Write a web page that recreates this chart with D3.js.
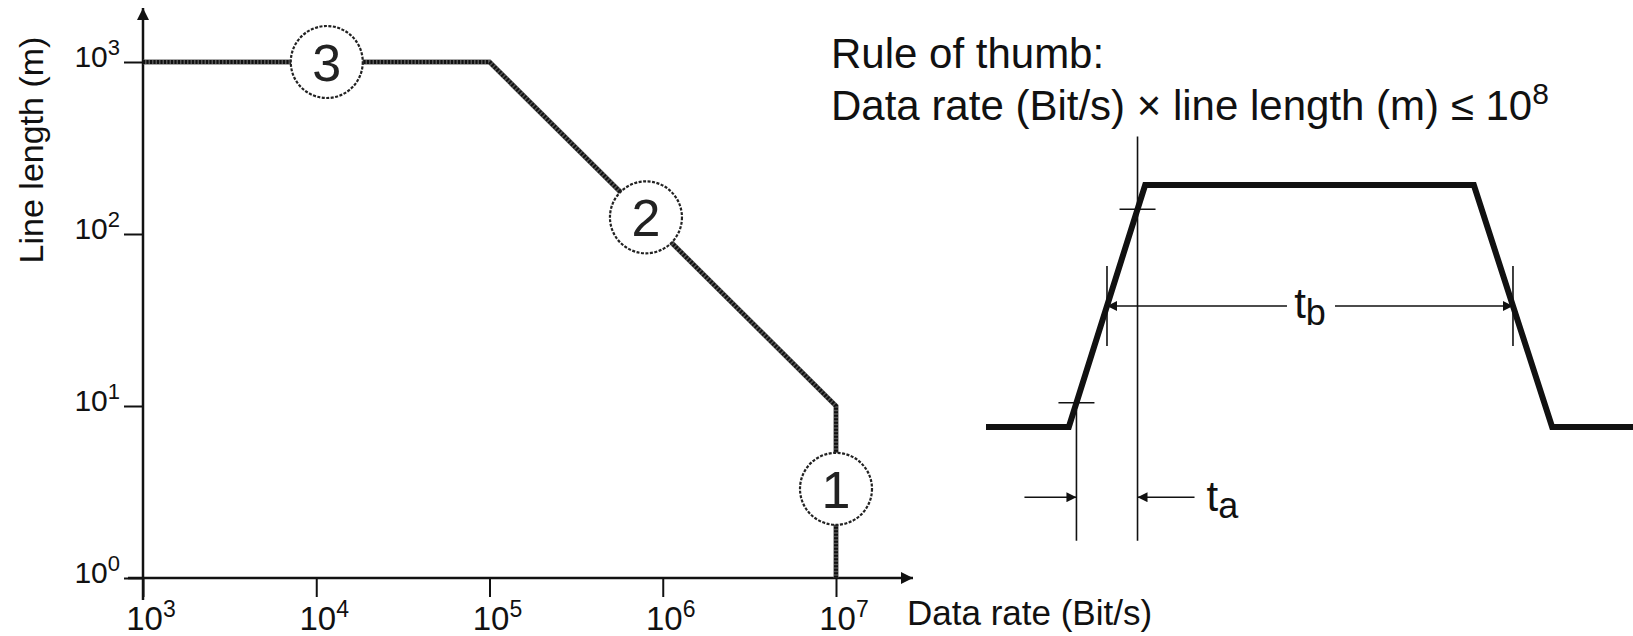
<!DOCTYPE html>
<html>
<head>
<meta charset="utf-8">
<script src="https://cdn.jsdelivr.net/npm/d3@7"></script>
<style>
  body { margin: 0; background: #fff; }
  svg { display: block; font-family: "Liberation Sans", Arial, sans-serif; }
</style>
</head>
<body>
<div id="chart"></div>
<script>
// dimensions
const width = 1633;
const height = 636;

// left chart: max line length per data rate
const dataRates = [1e3, 1e5, 1e7, 1e7];
const lineLengths = [1e3, 1e3, 1e1, 1e0];
const xTickValues = [1e3, 1e4, 1e5, 1e6, 1e7];
const yTickValues = [1e0, 1e1, 1e2, 1e3];

// numbered regions on the curve
const markerLabels = ["1", "2", "3"];
const markerRates = [1e7, 8e5, 1.15e4];
const markerLengths = [3.3, 125, 1e3];

// pulse sketch (arbitrary time units, level 0..1)
const pulseTime = [0, 12.8, 24.6, 75.4, 87.5, 100];
const pulseLevel = [0, 0, 1, 1, 0, 0];

const ruleLines = ["Rule of thumb:", "Data rate (Bit/s) \u00d7 line length (m) \u2264 10"];
const ruleExponent = "8";

const svg = d3.select("#chart").append("svg")
    .attr("width", width)
    .attr("height", height);

// arrow heads
const defs = svg.append("defs");
defs.append("marker")
    .attr("id", "axisArrow")
    .attr("viewBox", "0 0 10 10")
    .attr("refX", 10).attr("refY", 5)
    .attr("markerWidth", 14).attr("markerHeight", 12)
    .attr("markerUnits", "userSpaceOnUse")
    .attr("orient", "auto")
    .append("path").attr("d", "M0,0 L10,5 L0,10 Z").attr("fill", "#111");
defs.append("marker")
    .attr("id", "dimArrow")
    .attr("viewBox", "0 0 10 10")
    .attr("refX", 10).attr("refY", 5)
    .attr("markerWidth", 16).attr("markerHeight", 10)
    .attr("markerUnits", "userSpaceOnUse")
    .attr("orient", "auto")
    .append("path").attr("d", "M0,0 L10,5 L0,10 Z").attr("fill", "#111");

// ===== left chart =====
const x = d3.scaleLog().domain([1e3, 1e7]).range([143, 836]);
const y = d3.scaleLog().domain([1e0, 1e3]).range([578, 62]);

const exp10 = v => Math.round(Math.log10(v));

// x axis ticks
const xAxis = svg.append("g")
    .attr("transform", `translate(0,${y(1)})`)
    .call(d3.axisBottom(x).tickValues(xTickValues).tickSize(19).tickSizeOuter(0).tickFormat(""));
xAxis.select(".domain").remove();
xAxis.selectAll(".tick line").attr("stroke", "#111").attr("stroke-width", 2);

// y axis ticks
const yAxis = svg.append("g")
    .attr("transform", `translate(${x(1e3)},0)`)
    .call(d3.axisLeft(y).tickValues(yTickValues).tickSize(19).tickSizeOuter(0).tickFormat(""));
yAxis.select(".domain").remove();
yAxis.selectAll(".tick line").attr("stroke", "#111").attr("stroke-width", 2);

// axis lines with arrows
svg.append("line")
    .attr("x1", x(1e3)).attr("x2", x(1e3))
    .attr("y1", 600).attr("y2", 8)
    .attr("stroke", "#111").attr("stroke-width", 2.5)
    .attr("marker-end", "url(#axisArrow)");
svg.append("line")
    .attr("x1", 128).attr("x2", 913)
    .attr("y1", y(1)).attr("y2", y(1))
    .attr("stroke", "#111").attr("stroke-width", 2.5)
    .attr("marker-end", "url(#axisArrow)");

// tick labels with superscripts
const xLabels = svg.append("g").selectAll("text")
    .data(xTickValues)
    .join("text")
    .attr("x", d => x(d) + 8)
    .attr("y", 630)
    .attr("text-anchor", "middle")
    .attr("font-size", 33)
    .attr("fill", "#111")
    .text("10");
xLabels.append("tspan")
    .attr("dy", -13)
    .attr("font-size", 23)
    .text(d => exp10(d));

const yLabels = svg.append("g").selectAll("text")
    .data(yTickValues)
    .join("text")
    .attr("x", 120)
    .attr("y", d => y(d) + 5)
    .attr("text-anchor", "end")
    .attr("font-size", 30)
    .attr("fill", "#111")
    .text("10");
yLabels.append("tspan")
    .attr("dy", -12)
    .attr("font-size", 22)
    .text(d => exp10(d));

// axis titles
svg.append("text")
    .attr("transform", `translate(43,150) rotate(-90)`)
    .attr("text-anchor", "middle")
    .attr("font-size", 34)
    .attr("fill", "#111")
    .text("Line length (m)");
svg.append("text")
    .attr("x", 907)
    .attr("y", 625)
    .attr("font-size", 35)
    .attr("fill", "#111")
    .text("Data rate (Bit/s)");

// the limit curve
const limitLine = d3.line()
    .x((d, i) => x(dataRates[i]))
    .y((d, i) => y(lineLengths[i]));
svg.append("path")
    .attr("d", limitLine(dataRates))
    .attr("fill", "none")
    .attr("stroke", "#555")
    .attr("stroke-width", 5);
svg.append("path")
    .attr("d", limitLine(dataRates))
    .attr("fill", "none")
    .attr("stroke", "#111")
    .attr("stroke-width", 4)
    .attr("stroke-dasharray", "2 1.5");

// numbered circles
const markers = svg.append("g").selectAll("g")
    .data(markerLabels)
    .join("g")
    .attr("transform", (d, i) => `translate(${x(markerRates[i])},${y(markerLengths[i])})`);
markers.append("circle")
    .attr("r", 36)
    .attr("fill", "#fff")
    .attr("stroke", "#222")
    .attr("stroke-width", 2.2)
    .attr("stroke-dasharray", "3 1.5");
markers.append("text")
    .attr("text-anchor", "middle")
    .attr("dy", "0.36em")
    .attr("font-size", 52)
    .attr("fill", "#222")
    .text(d => d);

// rule of thumb text
const rule = svg.append("g");
rule.append("text")
    .attr("x", 831).attr("y", 68)
    .attr("font-size", 42).attr("fill", "#111")
    .text(ruleLines[0]);
rule.append("text")
    .attr("x", 831).attr("y", 120)
    .attr("font-size", 42).attr("fill", "#111")
    .text(ruleLines[1])
    .append("tspan")
    .attr("dy", -16)
    .attr("font-size", 30)
    .text(ruleExponent);

// ===== pulse sketch =====
const px = d3.scaleLinear().domain([0, 100]).range([986, 1633]);
const py = d3.scaleLinear().domain([0, 1]).range([427, 185]);

const riseAt = lv => pulseTime[1] + (pulseTime[2] - pulseTime[1]) * lv;
const fallAt = lv => pulseTime[3] + (pulseTime[4] - pulseTime[3]) * (1 - lv);

const pulse = svg.append("g");

pulse.append("path")
    .attr("d", d3.line().x((d, i) => px(pulseTime[i])).y((d, i) => py(pulseLevel[i]))(pulseTime))
    .attr("fill", "none")
    .attr("stroke", "#111")
    .attr("stroke-width", 6)
    .attr("stroke-linejoin", "miter");

const thin = sel => sel.attr("stroke", "#111").attr("stroke-width", 1.6);

// 10% and 90% marks
pulse.append("line").call(thin)
    .attr("x1", px(riseAt(0.1)) - 18).attr("x2", px(riseAt(0.1)) + 18)
    .attr("y1", py(0.1)).attr("y2", py(0.1));
pulse.append("line").call(thin)
    .attr("x1", px(riseAt(0.9)) - 18).attr("x2", px(riseAt(0.9)) + 18)
    .attr("y1", py(0.9)).attr("y2", py(0.9));

// extension lines for t_a
pulse.append("line").call(thin)
    .attr("x1", px(riseAt(0.1))).attr("x2", px(riseAt(0.1)))
    .attr("y1", py(0.07)).attr("y2", py(-0.47));
pulse.append("line").call(thin)
    .attr("x1", px(riseAt(0.9))).attr("x2", px(riseAt(0.9)))
    .attr("y1", py(1.2)).attr("y2", py(-0.47));

// 50% marks
[px(riseAt(0.5)), px(fallAt(0.5))].forEach(cx => {
    pulse.append("line").call(thin)
        .attr("x1", cx).attr("x2", cx)
        .attr("y1", py(0.5) - 40).attr("y2", py(0.5) + 40);
});

// t_b dimension
const tbMid = (px(riseAt(0.5)) + px(fallAt(0.5))) / 2;
pulse.append("line").call(thin)
    .attr("x1", tbMid - 23).attr("x2", px(riseAt(0.5)))
    .attr("y1", py(0.5)).attr("y2", py(0.5))
    .attr("marker-end", "url(#dimArrow)");
pulse.append("line").call(thin)
    .attr("x1", tbMid + 25).attr("x2", px(fallAt(0.5)))
    .attr("y1", py(0.5)).attr("y2", py(0.5))
    .attr("marker-end", "url(#dimArrow)");
const tb = pulse.append("text")
    .attr("x", tbMid).attr("y", py(0.5) + 12)
    .attr("text-anchor", "middle")
    .attr("font-size", 42).attr("fill", "#111")
    .text("t");
tb.append("tspan").attr("dy", 7).attr("font-size", 36).text("b");

// t_a dimension
const taY = py(-0.29);
pulse.append("line").call(thin)
    .attr("x1", px(riseAt(0.1)) - 52).attr("x2", px(riseAt(0.1)))
    .attr("y1", taY).attr("y2", taY)
    .attr("marker-end", "url(#dimArrow)");
pulse.append("line").call(thin)
    .attr("x1", px(riseAt(0.9)) + 57).attr("x2", px(riseAt(0.9)))
    .attr("y1", taY).attr("y2", taY)
    .attr("marker-end", "url(#dimArrow)");
const ta = pulse.append("text")
    .attr("x", px(riseAt(0.9)) + 69).attr("y", taY + 14)
    .attr("font-size", 42).attr("fill", "#111")
    .text("t");
ta.append("tspan").attr("dy", 7).attr("font-size", 36).text("a");
</script>
</body>
</html>
